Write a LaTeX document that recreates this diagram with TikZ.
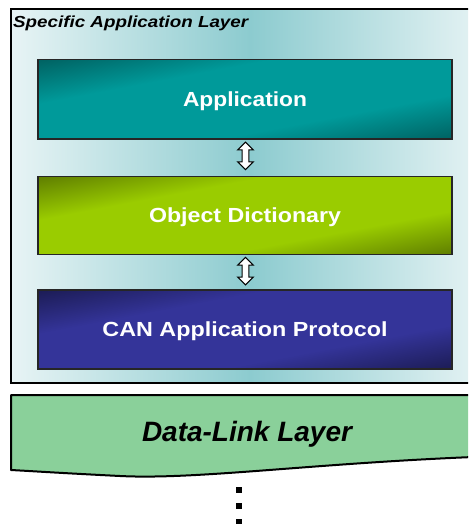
\documentclass[tikz,border=0pt]{standalone}
\usepackage{fontspec}
\setmainfont{Liberation Sans}
\usepackage{graphicx}
\usetikzlibrary{calc}

\definecolor{paneLight}{HTML}{E8F4F5}
\definecolor{paneMid}{HTML}{8CCBCF}
\definecolor{appMid}{HTML}{009A9A}
\definecolor{appDark}{HTML}{006262}
\definecolor{odMid}{HTML}{9ACC00}
\definecolor{odDark}{HTML}{5E7D00}
\definecolor{canMid}{HTML}{343499}
\definecolor{canDark}{HTML}{1C1C55}
\definecolor{dllFill}{HTML}{8AD09A}

% diagonal band shadings: dark corners, light band along the diagonal
\pgfdeclareverticalshading{appband}{100bp}{color(0bp)=(appDark); color(25bp)=(appDark);
  color(39bp)=(appMid); color(61bp)=(appMid); color(75bp)=(appDark); color(100bp)=(appDark)}
\pgfdeclareverticalshading{odband}{100bp}{color(0bp)=(odDark); color(25bp)=(odDark);
  color(39bp)=(odMid); color(61bp)=(odMid); color(75bp)=(odDark); color(100bp)=(odDark)}
\pgfdeclareverticalshading{canband}{100bp}{color(0bp)=(canDark); color(25bp)=(canDark);
  color(39bp)=(canMid); color(61bp)=(canMid); color(75bp)=(canDark); color(100bp)=(canDark)}

\tikzset{
  pane/.style={draw=black, line width=2pt, inner sep=0pt,
    left color=paneLight, right color=paneLight, middle color=paneMid},
  layerbox/.style={draw=black!85, line width=1.2pt, minimum width=414pt,
    inner sep=0pt, text=white, text height=14.6pt, text depth=0pt,
    font=\bfseries\fontsize{20.4}{20.4}\selectfont},
  band/.style={path picture={
    \begin{scope}[transform canvas={rotate around={10.8:(path picture bounding box.center)}}]
      \shade[shading=#1]
        ($(path picture bounding box.center)+(-260,-77.6)$) rectangle
        ($(path picture bounding box.center)+(260,77.6)$);
    \end{scope}}},
  titletext/.style={inner sep=0pt, anchor=base west,
    font=\bfseries\itshape\fontsize{16}{16}\selectfont},
  dlltext/.style={inner sep=0pt, text height=20pt, text depth=0pt,
    font=\bfseries\itshape\fontsize{28}{28}\selectfont},
  updown/.pic={
    \draw[fill=white, line width=1pt, line join=miter]
      (0,-13.7) -- (-7.8,-6) -- (-3.3,-6) -- (-3.3,6) -- (-7.8,6) -- (0,13.7)
      -- (7.8,6) -- (3.3,6) -- (3.3,-6) -- (7.8,-6) -- cycle;
  },
  dot/.style={fill=black}
}

\begin{document}
\begin{tikzpicture}[x=1pt,y=-1pt]
\useasboundingbox (0,0) rectangle (468,526);
\clip (0,0) rectangle (468,526);

% outer layer frame (runs past the right edge)
\node[pane, minimum width=478pt, minimum height=373pt] (pane) at (250,196) {};
\node[titletext] (title) at (13,28) {\resizebox{235pt}{\height}{Specific Application Layer}};

% stacked layers
\node[layerbox, minimum height=79.5pt, band=appband]
  (app) at (245,99.3) {\resizebox{124pt}{\height}{Application}};
\node[layerbox, minimum height=77.5pt, band=odband]
  (obj) at (245,215.5) {\resizebox{192pt}{\height}{Object Dictionary}};
\node[layerbox, minimum height=79pt, band=canband]
  (can) at (245,329.5) {\resizebox{285pt}{\height}{CAN Application Protocol}};

% two-way links between layers
\pic (link1) at ($(app.south)!0.5!(obj.north)+(0.5,-2)$) {updown};
\pic (link2) at ($(obj.south)!0.5!(can.north)+(0.5,-1)$) {updown};

% data-link layer with wavy lower edge
\draw[fill=dllFill, line width=2pt, line join=round]
  (11,395) -- (500,395) -- (500,456)
  .. controls (320,462) and (200,480) .. (120,476)
  .. controls (60,473) and (30,471) .. (11,470) -- cycle;
\node[dlltext] (dll) at (247,431) {\resizebox{210pt}{\height}{Data-Link Layer}};

% continuation dots
\fill[dot] (236,487.3) rectangle ++(5.5,5.5);
\fill[dot] (236,503.3) rectangle ++(5.5,5.5);
\fill[dot] (236,518.5) rectangle ++(5.5,5.5);
\end{tikzpicture}
\end{document}
